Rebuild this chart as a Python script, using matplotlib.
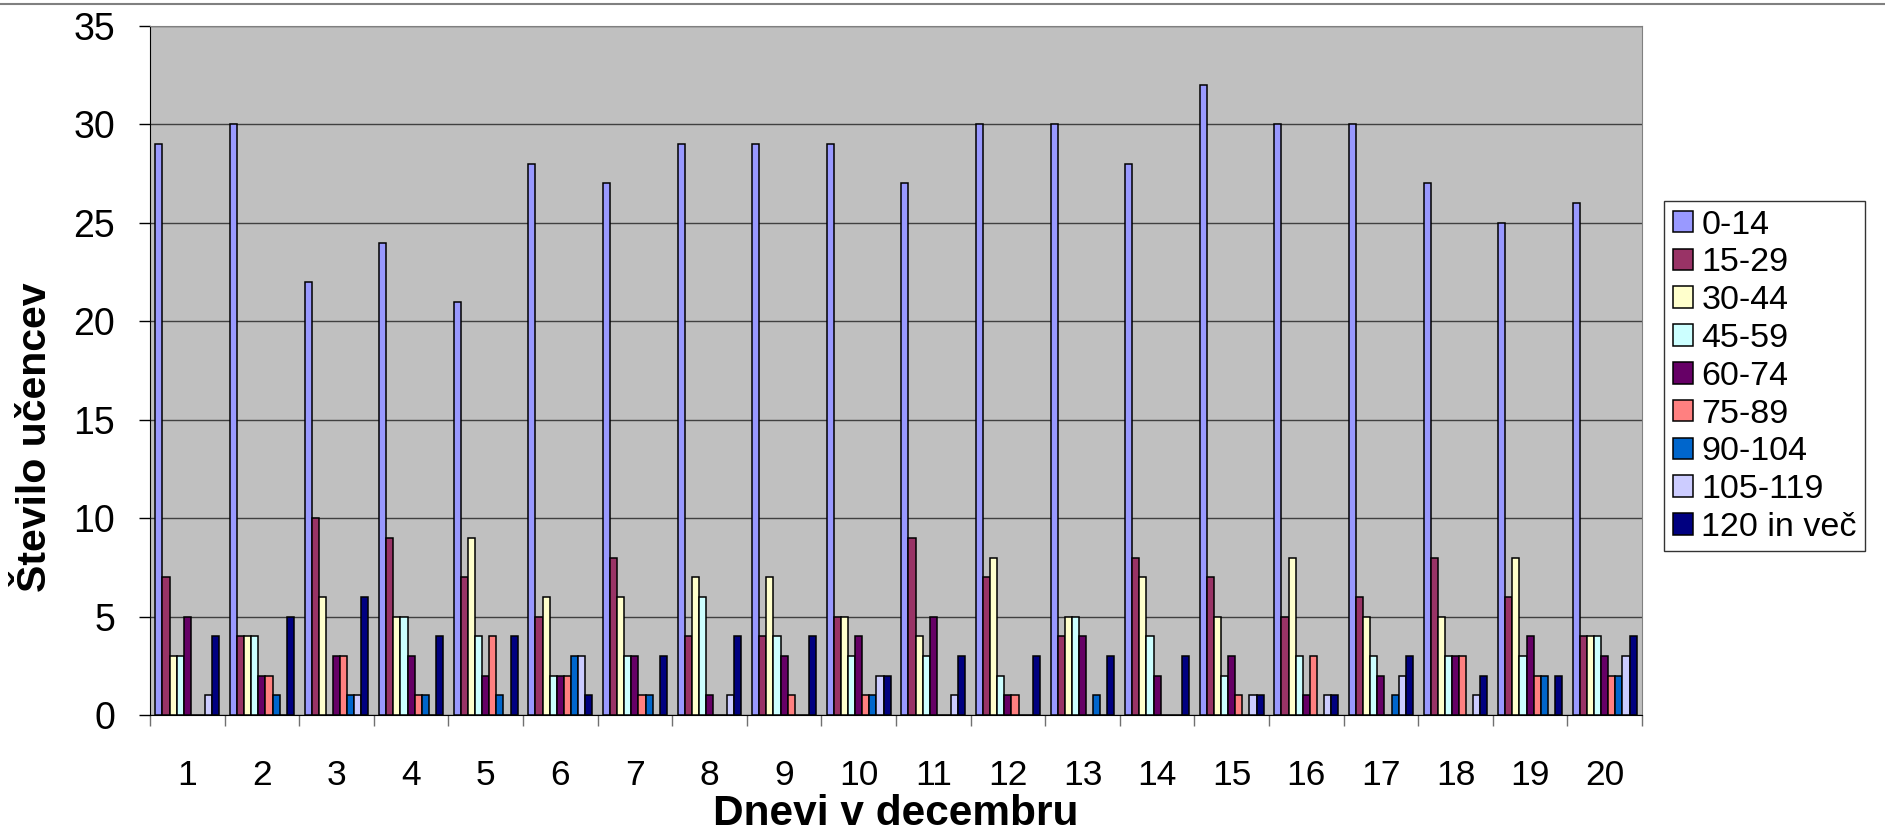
import numpy as np
import matplotlib
matplotlib.use('Agg')
import matplotlib.pyplot as plt
from matplotlib.lines import Line2D

plt.rcParams['font.family'] = ['Liberation Sans', 'DejaVu Sans']

dnevi = [str(d) for d in range(1, 21)]
skupine = ['0-14', '15-29', '30-44', '45-59', '60-74', '75-89', '90-104', '105-119', '120 in več']
barve = ['#9999FF', '#993366', '#FFFFCC', '#CCFFFF', '#660066', '#FF8080', '#0066CC', '#CCCCFF', '#000080']

# stevilo ucencev po dnevih za vsako starostno skupino
s0_14 = [29, 30, 22, 24, 21, 28, 27, 29, 29, 29, 27, 30, 30, 28, 32, 30, 30, 27, 25, 26]
s15_29 = [7, 4, 10, 9, 7, 5, 8, 4, 4, 5, 9, 7, 4, 8, 7, 5, 6, 8, 6, 4]
s30_44 = [3, 4, 6, 5, 9, 6, 6, 7, 7, 5, 4, 8, 5, 7, 5, 8, 5, 5, 8, 4]
s45_59 = [3, 4, 0, 5, 4, 2, 3, 6, 4, 3, 3, 2, 5, 4, 2, 3, 3, 3, 3, 4]
s60_74 = [5, 2, 3, 3, 2, 2, 3, 1, 3, 4, 5, 1, 4, 2, 3, 1, 2, 3, 4, 3]
s75_89 = [0, 2, 3, 1, 4, 2, 1, 0, 1, 1, 0, 1, 0, 0, 1, 3, 0, 3, 2, 2]
s90_104 = [0, 1, 1, 1, 1, 3, 1, 0, 0, 1, 0, 0, 1, 0, 0, 0, 1, 0, 2, 2]
s105_119 = [1, 0, 1, 0, 0, 3, 0, 1, 0, 2, 1, 0, 0, 0, 1, 1, 2, 1, 0, 3]
s120 = [4, 5, 6, 4, 4, 1, 3, 4, 4, 2, 3, 3, 3, 3, 1, 1, 3, 2, 2, 4]
serije = [s0_14, s15_29, s30_44, s45_59, s60_74, s75_89, s90_104, s105_119, s120]

fig = plt.figure(figsize=(18.85, 8.35), dpi=100)
ax = fig.add_axes([150/1885, 1-715/835, (1642-150)/1885, (715-26)/835])
ax.set_facecolor('#C0C0C0')

x = np.arange(len(dnevi)) + 0.5
w = 1/10.5
for j, (vals, c, lab) in enumerate(zip(serije, barve, skupine)):
    ax.bar(x + (j-4)*w, vals, width=w, color=c, edgecolor='black', linewidth=1.1, label=lab, zorder=3)

ax.set_xlim(0, 20)
ax.set_ylim(0, 35)
ax.set_yticks(range(0, 36, 5))
ax.yaxis.grid(True, color='#404040', linewidth=1.0, zorder=1)
ax.set_xticks(x)
ax.set_xticklabels(dnevi)
ax.set_xticks(np.arange(0, 21), minor=True)
ax.tick_params(axis='x', which='major', length=0, pad=32, labelsize=25.5)
ax.tick_params(axis='x', which='minor', length=8, width=1, color='#707070', direction='out')
ax.tick_params(axis='y', length=8, width=1, direction='out', pad=17, labelsize=27)
for s in ['top', 'right']:
    ax.spines[s].set_color('#808080')
for s in ['left', 'bottom']:
    ax.spines[s].set_color('black')

fig.text(35/1885, 1-437/835, 'Število učencev', rotation=90, fontsize=29.5, fontweight='bold',
         ha='center', va='center')
fig.text(896/1885, 1-825/835, 'Dnevi v decembru', fontsize=30.5, fontweight='bold',
         ha='center', va='baseline')

leg = fig.legend(loc='upper left', bbox_to_anchor=(1664/1885, 1-201/835), fontsize=24.5,
                 frameon=True, fancybox=False, handlelength=0.6, handleheight=0.6,
                 handletextpad=0.25, labelspacing=0.2, borderpad=0.25, borderaxespad=0)
leg.get_frame().set_edgecolor('black')
leg.get_frame().set_linewidth(1.0)

fig.add_artist(Line2D([0, 1], [1-4/835, 1-4/835], color='#808080', linewidth=1.5,
                      transform=fig.transFigure))

plt.savefig('out.png', dpi=100)
